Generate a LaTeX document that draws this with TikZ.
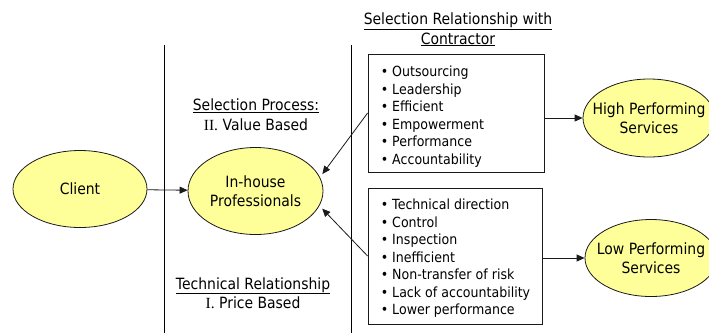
\documentclass[tikz,border=0pt]{standalone}
\usepackage{fontspec}
\setmainfont{DejaVu Sans}[FakeStretch=0.9]
\newfontfamily\romanfont{Liberation Serif}
\usetikzlibrary{arrows.meta,shapes.geometric}
\definecolor{ovalfill}{HTML}{FFFF99}
\definecolor{inkgray}{HTML}{1A1A1A}
\tikzset{
  every node/.style={font=\fontsize{15.5}{19.5}\selectfont, text=black},
  oval/.style={ellipse, draw=inkgray, line width=0.8pt, fill=ovalfill, align=center, inner sep=0pt},
  tightoval/.style={oval, inner xsep=-12pt},
  listbox/.style={draw=inkgray, line width=0.8pt, fill=white, inner sep=0pt},
  listtext/.style={align=left, inner sep=0pt, anchor=west, font=\fontsize{14}{17.5}\selectfont},
  label/.style={align=center, inner sep=0pt},
  link/.style={line width=0.8pt, draw=inkgray, -{Triangle[length=8pt,width=7pt]}},
  divider/.style={line width=0.9pt, draw=black}
}
\begin{document}
\begin{tikzpicture}[x=1pt,y=-1pt]
  \useasboundingbox (0,0) rectangle (709,333);
  \fill[white] (0,0) rectangle (709,333);

  % column dividers
  \coordinate (d1t) at (164,45);
  \coordinate (d1b) at (164,333);
  \coordinate (d2t) at (351,45);
  \coordinate (d2b) at (351,333);
  \draw[divider] (d1t) -- (d1b);
  \draw[divider] (d2t) -- (d2b);

  % ovals
  \node[oval, minimum width=134, minimum height=77] (client) at (80,189) {Client};
  \node[oval, minimum width=135, minimum height=87] (inhouse) at (255.5,191) {In-house\\Professionals};
  \node[tightoval, minimum width=132, minimum height=78] (high) at (649,118) {High Performing\\Services};
  \node[tightoval, minimum width=132, minimum height=77] (low) at (651,258) {Low Performing\\Services};

  % attribute boxes with their bullet lists
  \node[listbox, minimum width=176, minimum height=118] (good) at (456,113) {};
  \node[listtext] (goodlist) at ([xshift=13,yshift=-3.5]good.west)
    {\textbullet\ Outsourcing\\ \textbullet\ Leadership\\ \textbullet\ Efficient\\ \textbullet\ Empowerment\\ \textbullet\ Performance\\ \textbullet\ Accountability};
  \node[listbox, minimum width=174, minimum height=136] (poor) at (455,256) {};
  \node[listtext] (poorlist) at ([xshift=13,yshift=-2.5]poor.west)
    {\textbullet\ Technical direction\\ \textbullet\ Control\\ \textbullet\ Inspection\\ \textbullet\ Inefficient\\ \textbullet\ Non-transfer of risk\\ \textbullet\ Lack of accountability\\ \textbullet\ Lower performance};

  % headings
  \node[label] (heading) at (458,29.5) {\underline{Selection Relationship with}\\\underline{Contractor}};
  \node[label] (selproc) at (256,114.5) {\underline{Selection Process:}\\{\romanfont II.} Value Based};
  \node[label] (techrel) at (253,293) {\underline{Technical Relationship}\\{\romanfont I.} Price Based};

  % connectors
  \draw[link] (client) -- (inhouse);
  \draw[link, shorten >=4pt] (good.west) -- (inhouse.12);
  \draw[link, shorten >=4pt] (poor.west) -- (inhouse.-13);
  \draw[link] (good.east |- high.west) -- (high.west);
  \draw[link] (poor.east |- low.west) -- (low.west);
\end{tikzpicture}
\end{document}
